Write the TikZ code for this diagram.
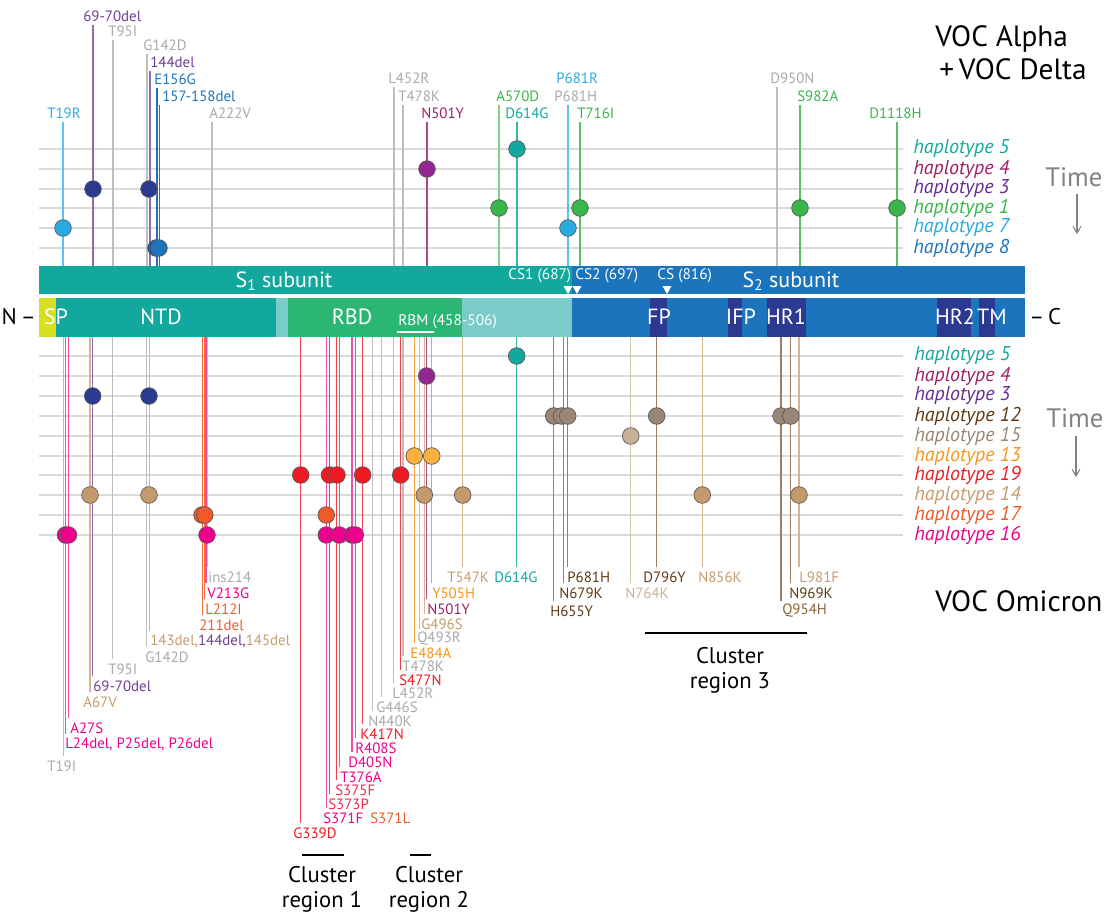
\documentclass[tikz,border=0pt]{standalone}
\usepackage{fontspec}
\setmainfont{PT Sans}
\usetikzlibrary{arrows.meta}
% fills / dots
\definecolor{cTeal}{HTML}{13A89E}
\definecolor{cLTeal}{HTML}{7ACCC8}
\definecolor{cRBD}{HTML}{2BB673}
\definecolor{cBlue}{HTML}{1C75BC}
\definecolor{cNavy}{HTML}{2B3990}
\definecolor{cSP}{HTML}{D7DF23}
\definecolor{cPurpleDot}{HTML}{92278F}
\definecolor{cGreen}{HTML}{39B54A}
\definecolor{cLBlue}{HTML}{29ABE2}
\definecolor{cH12}{HTML}{998675}
\definecolor{cH15}{HTML}{C7B299}
\definecolor{cH13}{HTML}{FBB040}
\definecolor{cRed}{HTML}{ED1C24}
\definecolor{cTan}{HTML}{C49A6C}
\definecolor{cORed}{HTML}{F15A29}
\definecolor{cMag}{HTML}{EC008C}
% text colours
\definecolor{tGray}{HTML}{A7A9AC}
\definecolor{tPurple}{HTML}{6E3D96}
\definecolor{tHap4}{HTML}{9E1F63}
\definecolor{tHap3}{HTML}{662D91}
\definecolor{tOrange}{HTML}{F7941D}
\definecolor{tTan}{HTML}{C69C6D}
\definecolor{tDBrown}{HTML}{603913}
\definecolor{tBrown}{HTML}{8C6239}
\definecolor{tH15}{HTML}{998675}
\definecolor{tS373}{HTML}{EE2A4F}
% line colours
\definecolor{lLBlue}{HTML}{5CC3EC}
\definecolor{lPurple}{HTML}{8C6BB1}
\definecolor{lGray}{HTML}{BDBDBD}
\definecolor{lBlue}{HTML}{1C75BC}
\definecolor{lN501}{HTML}{A8478A}
\definecolor{lLGreen}{HTML}{86CD86}
\definecolor{lTeal}{HTML}{37B3A8}
\definecolor{lGreen}{HTML}{5CBF63}
\definecolor{lMag}{HTML}{EE4FA3}
\definecolor{lRed}{HTML}{EF4148}
\definecolor{lOrange}{HTML}{F7A13A}
\definecolor{lTan}{HTML}{D5B48F}
\definecolor{lBrown}{HTML}{9C7E66}
\definecolor{lBeige}{HTML}{D5C6AE}
\definecolor{lORed}{HTML}{F26B3A}
\definecolor{gridGray}{HTML}{DADADA}
\definecolor{timeGray}{HTML}{808285}

% top mutation: name, line x, line colour, label x, label y, label colour, text
\newcommand\topmut[7]{%
  \node[lab,text=#6] (#1) at (#4,#5) {#7};
  \draw[mline,#3] (#2,#5+9) -- (#2,266);}
% bottom mutation: name, line x, line colour, label x, label y, label colour, text
\newcommand\botmut[7]{%
  \node[lab,text=#6] (#1) at (#4,#5) {#7};
  \draw[mline,#3] (#2,337) -- (#2,#5-10);}

\begin{document}
\begin{tikzpicture}[x=0.75pt,y=-0.75pt,
  grid/.style={draw=gridGray,line width=1pt},
  mline/.style={line width=0.95pt},
  lab/.style={font=\fontsize{11.2}{12}\selectfont,inner sep=0pt,anchor=west},
  hap/.style={font=\fontsize{15}{16}\selectfont\itshape,inner sep=0pt,anchor=west},
  dot/.style={circle,draw=black!65,line width=0.5pt,minimum size=12.5pt,inner sep=0pt},
  barlab/.style={text=white,font=\fontsize{16.5}{17}\selectfont,inner sep=0pt},
  cslab/.style={text=white,font=\fontsize{11.5}{12}\selectfont,inner sep=0pt,anchor=west},
  big/.style={font=\fontsize{22}{24}\selectfont,inner sep=0pt,anchor=west},
  timelab/.style={text=timeGray,font=\fontsize{20}{22}\selectfont,inner sep=0pt,anchor=west},
  clab/.style={font=\fontsize{17}{18}\selectfont,inner sep=0pt,align=center},
  tarrow/.style={draw=timeGray,line width=0.8pt,-{Straight Barb[length=5pt,width=6pt]}},
  cline/.style={draw=black,line width=1.5pt}
]
\useasboundingbox (0,0) rectangle (1110,913);

% ---------- grid lines ----------
\foreach \yy in {149,169,189,208,228,248,356,376,396,416,436,456,475,495,515,535}
  \draw[grid] (39,\yy) -- (903,\yy);

% ---------- top mutations ----------
\topmut{tT19R}{63}{lLBlue}{47}{113}{cLBlue}{T19R}
\topmut{t6970}{93}{lPurple}{83}{16}{tPurple}{69-70del}
\topmut{tT95I}{113}{lGray}{108}{31}{tGray}{T95I}
\topmut{tG142D}{147}{lGray}{143}{45}{tGray}{G142D}
\topmut{t144}{150}{lPurple}{150}{62}{tPurple}{144del}
\topmut{tE156G}{157}{lBlue}{154}{79}{cBlue}{E156G}
\topmut{t157}{159.5}{lBlue}{162}{96}{cBlue}{157-158del}
\topmut{tA222V}{212}{lGray}{209}{113}{tGray}{A222V}
\topmut{tL452R}{394}{lGray}{388}{78}{tGray}{L452R}
\topmut{tT478K}{403}{lGray}{398}{96}{tGray}{T478K}
\topmut{tN501Y}{427}{lN501}{421}{113}{tHap4}{N501Y}
\topmut{tA570D}{499}{lLGreen}{496}{96}{cGreen}{A570D}
\topmut{tD614G}{517}{lTeal}{505}{113}{cTeal}{D614G}
\topmut{tP681H}{568}{lLBlue}{554}{96}{tGray}{P681H}
\node[lab,text=cLBlue] (tP681R) at (556,78) {P681R};
\topmut{tT716I}{580}{lGreen}{577}{113}{cGreen}{T716I}
\topmut{tD950N}{777}{lGray}{770}{78}{tGray}{D950N}
\topmut{tS982A}{800}{lGreen}{797}{96}{cGreen}{S982A}
\topmut{tD1118H}{897}{lGreen}{869}{113}{cGreen}{D1118H}

% top dots
\node[dot,fill=cTeal] (td1) at (517,149) {};
\node[dot,fill=cPurpleDot] (td2) at (427,169) {};
\node[dot,fill=cNavy] (td3) at (93,189) {};
\node[dot,fill=cNavy] (td4) at (149,189) {};
\node[dot,fill=cGreen] (td5) at (499,208) {};
\node[dot,fill=cGreen] (td6) at (580,208) {};
\node[dot,fill=cGreen] (td7) at (800,208) {};
\node[dot,fill=cGreen] (td8) at (897,208) {};
\node[dot,fill=cLBlue] (td9) at (63,228) {};
\node[dot,fill=cLBlue] (td10) at (568,228) {};
\node[dot,fill=cBlue!80!black] (td11) at (156,248) {};
\node[dot,fill=cBlue] (td12) at (159,248) {};

% top haplotype labels
\node[hap,text=cTeal] (th5) at (913,149) {haplotype 5};
\node[hap,text=tHap4] (th4) at (913,169) {haplotype 4};
\node[hap,text=tHap3] (th3) at (913,189) {haplotype 3};
\node[hap,text=cGreen] (th1) at (913,208) {haplotype 1};
\node[hap,text=cLBlue] (th7) at (913,228) {haplotype 7};
\node[hap,text=cBlue] (th8) at (913,248) {haplotype 8};

\node[big] (voca) at (935,39) {VOC Alpha};
\node[big] (vocd) at (939,69) {+\,VOC Delta};
\node[timelab] (time1) at (1045,177) {Time};
\coordinate (ta1) at (1077,194);
\coordinate (ta2) at (1077,234);
\draw[tarrow] (ta1) -- (ta2);

% ---------- bars ----------
\fill[cTeal] (39,266) rectangle (572,294);
\fill[cBlue] (572,266) rectangle (1025,294);
\fill[cSP] (39,298) rectangle (56,337);
\fill[cTeal] (56,298) rectangle (276,337);
\fill[cLTeal] (276,298) rectangle (288,337);
\fill[cRBD] (288,298) rectangle (462,337);
\fill[cLTeal] (462,298) rectangle (572,337);
\fill[cBlue] (572,298) rectangle (1025,337);
\fill[cNavy] (650,298) rectangle (667,337);
\fill[cNavy] (728,298) rectangle (742,337);
\fill[cNavy] (767,298) rectangle (806,337);
\fill[cNavy] (937,298) rectangle (971,337);
\fill[cNavy] (979,298) rectangle (995,337);

\node[barlab] (s1) at (284,281) {S\textsubscript{1} subunit};
\node[barlab] (s2) at (791,281) {S\textsubscript{2} subunit};
\node[cslab] (cs1) at (508,276) {CS1 (687)};
\node[cslab] (cs2) at (575,276) {CS2 (697)};
\node[cslab] (cs) at (657,276) {CS (816)};
\foreach \tx in {568,577,667}
  \fill[white] (\tx-4.5,286) -- (\tx+4.5,286) -- (\tx,294) -- cycle;

\node[barlab] (sp) at (56,317) {SP};
\node[barlab] (ntd) at (161,317) {NTD};
\node[barlab] (rbd) at (352,317) {RBD};
\node[cslab] (rbm) at (398,322) {RBM (458-506)};
\draw[white,line width=1pt] (397,332) -- (434,332);
\node[barlab] (fp) at (659,317) {FP};
\node[barlab] (ifp) at (741,317) {IFP};
\node[barlab] (hr1) at (786,317) {HR1};
\node[barlab] (hr2) at (955,317) {HR2};
\node[barlab] (tm) at (992,317) {TM};
\node[font=\fontsize{17}{18}\selectfont,inner sep=0pt,anchor=east] (nterm) at (36,317) {N\,–};
\node[font=\fontsize{17}{18}\selectfont,inner sep=0pt,anchor=west] (cterm) at (1029,317) {–\,C};

% ---------- bottom mutations ----------
\botmut{bT19I}{63.3}{lGray}{47}{766}{tGray}{T19I}
\botmut{bL24}{65.7}{lMag}{65}{744}{cMag}{L24del, P25del, P26del}
\botmut{bA27S}{68.3}{lMag}{70}{728}{cMag}{A27S}
\botmut{bA67V}{90}{lTan}{83}{702}{tTan}{A67V}
\botmut{b6970}{92.7}{lPurple}{93}{686}{tPurple}{69-70del}
\botmut{bT95I}{112.7}{lGray}{108}{669}{tGray}{T95I}
\botmut{bG142D}{146.7}{lGray}{145}{657}{tGray}{G142D}
\botmut{b143}{149.2}{lTan}{150}{641}{tTan}{143del,{\color{tPurple}144del,}145del}
\botmut{b211}{202.3}{lORed}{199}{625}{cORed}{211del}
\botmut{bL212I}{204.3}{lORed}{205}{609}{cORed}{L212I}
\botmut{bV213G}{206}{lMag}{207}{593}{cMag}{V213G}
\botmut{bins}{207.8}{lGray}{208}{577}{tGray}{ins214}

\botmut{bG339D}{300.7}{lRed}{293}{833}{cRed}{G339D}
\botmut{bS371F}{326.3}{lMag}{323}{818}{cMag}{S371F}
\node[lab,text=cORed] (bS371L) at (370,818) {S371L};
\botmut{bS373P}{329.7}{lRed}{328}{804}{tS373}{S373P}
\botmut{bS375F}{336.7}{lRed}{335}{790}{tS373}{S375F}
\botmut{bT376A}{339.3}{lMag}{340}{777}{cMag}{T376A}
\botmut{bD405N}{352}{lMag}{348}{762}{cMag}{D405N}
\botmut{bR408S}{355.3}{lMag}{355}{748}{cMag}{R408S}
\botmut{bK417N}{362.7}{lRed}{360}{734}{cRed}{K417N}
\botmut{bN440K}{372.7}{lGray}{368}{721}{tGray}{N440K}
\botmut{bG446S}{381.7}{lGray}{376}{707}{tGray}{G446S}
\botmut{bL452R}{393.3}{lGray}{392}{693}{tGray}{L452R}
\botmut{bS477N}{400.7}{lRed}{399}{680}{cRed}{S477N}
\botmut{bT478K}{403}{lGray}{402}{666}{tGray}{T478K}
\botmut{bE484A}{414.3}{lOrange}{410}{653}{tOrange}{E484A}
\botmut{bQ493R}{419.3}{lGray}{417}{639}{tGray}{Q493R}
\botmut{bG496S}{424.7}{lTan}{421}{624}{tTan}{G496S}
\botmut{bN501Y}{426.7}{lN501}{427}{609}{tHap4}{N501Y}
\botmut{bY505H}{431.7}{lOrange}{432}{593}{tOrange}{Y505H}
\botmut{bT547K}{462.7}{lTan}{447}{577}{tTan}{T547K}

\botmut{bD614G}{516.7}{lTeal}{494}{577}{cTeal}{D614G}
\botmut{bH655Y}{553.7}{lBrown}{550}{611}{tDBrown}{H655Y}
\botmut{bN679K}{563.3}{lBrown}{559}{593}{tDBrown}{N679K}
\botmut{bP681H}{567.7}{lBrown}{567}{577}{tDBrown}{P681H}
\botmut{bN764K}{630.7}{lBeige}{625}{593}{cH15}{N764K}
\botmut{bD796Y}{656.7}{lBrown}{643}{577}{tDBrown}{D796Y}
\botmut{bN856K}{702.3}{lTan}{698}{577}{tTan}{N856K}
\botmut{bQ954H}{781}{lBrown}{782}{611}{tBrown}{Q954H}
\botmut{bN969K}{790.7}{lBrown}{789}{593}{tDBrown}{N969K}
\botmut{bL981F}{799}{lTan}{799}{577}{tTan}{L981F}

% bottom dots
\node[dot,fill=cTeal] (bd1) at (516.7,356) {};
\node[dot,fill=cPurpleDot] (bd2) at (426.7,376) {};
\node[dot,fill=cNavy] (bd3) at (92.7,396) {};
\node[dot,fill=cNavy] (bd4) at (149,396) {};
\foreach \xx in {553.7,561.5,567.7,656.7,781,790.7}
  \node[dot,fill=cH12] at (\xx,416) {};
\node[dot,fill=cH15] (bd5) at (630.7,436) {};
\foreach \xx in {414.3,431.7}
  \node[dot,fill=cH13] at (\xx,456) {};
\foreach \xx in {300.7,329.5,337,362.7,400.7}
  \node[dot,fill=cRed] at (\xx,475) {};
\foreach \xx in {90,149,424.3,462.7,702.3,799}
  \node[dot,fill=cTan] at (\xx,495) {};
\foreach \xx in {202,204.8,326.3}
  \node[dot,fill=cORed] at (\xx,515) {};
\foreach \xx in {65.5,68.5,207,326.3,339.3,352,355.3}
  \node[dot,fill=cMag] at (\xx,535) {};

% bottom haplotype labels
\node[hap,text=cTeal] (bh5) at (914,356) {haplotype 5};
\node[hap,text=tHap4] (bh4) at (914,376) {haplotype 4};
\node[hap,text=tHap3] (bh3) at (914,396) {haplotype 3};
\node[hap,text=tDBrown] (bh12) at (914,416) {haplotype 12};
\node[hap,text=tH15] (bh15) at (914,436) {haplotype 15};
\node[hap,text=tOrange] (bh13) at (914,456) {haplotype 13};
\node[hap,text=cRed] (bh19) at (914,475) {haplotype 19};
\node[hap,text=tTan] (bh14) at (914,495) {haplotype 14};
\node[hap,text=cORed] (bh17) at (914,515) {haplotype 17};
\node[hap,text=cMag] (bh16) at (914,535) {haplotype 16};

\node[timelab] (time2) at (1046,418) {Time};
\coordinate (tb1) at (1076,436);
\coordinate (tb2) at (1076,477);
\draw[tarrow] (tb1) -- (tb2);

\node[big] (omi) at (935,601) {VOC Omicron};

% cluster regions
\coordinate (c1a) at (302,855); \coordinate (c1b) at (344,855);
\coordinate (c2a) at (410,855); \coordinate (c2b) at (431,855);
\coordinate (c3a) at (645,633); \coordinate (c3b) at (807,633);
\draw[cline] (c1a) -- (c1b);
\draw[cline] (c2a) -- (c2b);
\draw[cline] (c3a) -- (c3b);
\node[clab] (cr1) at (322,889) {Cluster\\[1pt]region 1};
\node[clab] (cr2) at (429,889) {Cluster\\[1pt]region 2};
\node[clab] (cr3) at (730,670) {Cluster\\[1pt]region 3};
\end{tikzpicture}
\end{document}
